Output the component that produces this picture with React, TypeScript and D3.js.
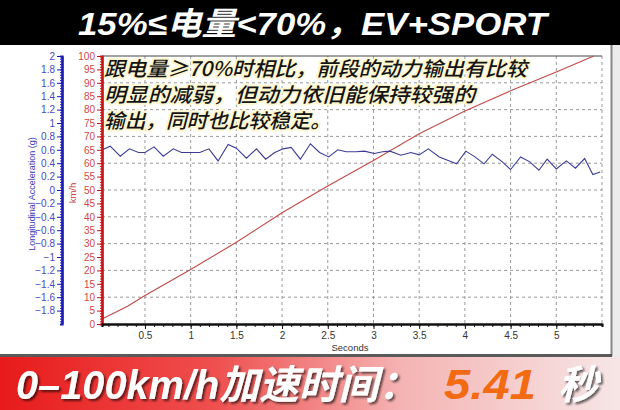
import React, { useEffect, useRef } from "react";
import * as d3 from "d3";

const titleText = "15%≤电量<70%，EV+SPORT";
const noteLines = [
  "跟电量≥70%时相比，前段的动力输出有比较",
  "明显的减弱，但动力依旧能保持较强的",
  "输出，同时也比较稳定。",
];
const bannerText = "0–100km/h加速时间：";
const bannerValue = "5.41";
const bannerUnit = "秒";

const timeTicks = [0.5, 1, 1.5, 2, 2.5, 3, 3.5, 4, 4.5, 5];
const speedTicks = [0, 5, 10, 15, 20, 25, 30, 35, 40, 45, 50, 55, 60, 65, 70, 75, 80, 85, 90, 95, 100];
const accelTicks = [-1.8, -1.6, -1.4, -1.2, -1, -0.8, -0.6, -0.4, -0.2, 0, 0.2, 0.4, 0.6, 0.8, 1, 1.2, 1.4, 1.6, 1.8, 2];
const gridSpeeds = [10, 20, 30, 40, 50, 60, 70, 80, 90];
const gridTimes = [0.5, 1, 1.5, 2, 2.5, 3, 3.5, 4, 4.5, 5, 5.5];

// speed (km/h)
const speedTimes = [0.03, 0.31, 0.5, 1.0, 1.5, 2.0, 2.5, 3.0, 3.5, 4.0, 4.5, 5.0, 5.41];
const speedValues = [1.9, 6.6, 10.6, 20.3, 30.5, 41.5, 51.5, 61, 71, 79.5, 87, 94, 100];

// longitudinal acceleration (g)
const accelTimes = [
  0.04, 0.12, 0.23, 0.33, 0.43, 0.5, 0.6, 0.7, 0.81, 0.9, 1.0, 1.1, 1.2, 1.3, 1.41, 1.5,
  1.61, 1.72, 1.82, 1.92, 2.01, 2.1, 2.2, 2.31, 2.41, 2.51, 2.61, 2.7, 2.81, 2.9, 3.01,
  3.1, 3.18, 3.3, 3.41, 3.5, 3.6, 3.72, 3.81, 3.91, 4.01, 4.11, 4.21, 4.3, 4.41, 4.5,
  4.61, 4.71, 4.81, 4.9, 5.0, 5.11, 5.21, 5.31, 5.4, 5.48,
];
const accelValues = [
  0.605, 0.654, 0.504, 0.614, 0.56, 0.56, 0.644, 0.504, 0.614, 0.56, 0.56, 0.56, 0.614,
  0.434, 0.68, 0.624, 0.475, 0.614, 0.46, 0.56, 0.614, 0.635, 0.46, 0.69, 0.56, 0.494,
  0.6, 0.57, 0.57, 0.58, 0.545, 0.57, 0.58, 0.52, 0.56, 0.524, 0.614, 0.494, 0.445, 0.39,
  0.58, 0.494, 0.39, 0.534, 0.42, 0.305, 0.494, 0.42, 0.295, 0.46, 0.314, 0.434, 0.325,
  0.47, 0.23, 0.27,
];

const App: React.FC = () => {
  const svgRef = useRef<SVGSVGElement>(null);

  useEffect(() => {
    const svg = d3.select(svgRef.current);
    svg.selectAll("*").remove();
    const width = 620;
    const height = 410;
    const plot = { left: 102, right: 602, top: 56, bottom: 324 };
    const latin = "'Liberation Sans', Arial, sans-serif";
    const heavy = "'Liberation Sans', 'Noto Sans CJK SC', sans-serif";

    const x = d3.scaleLinear().domain([0.03, 5.5]).range([plot.left, plot.right]);
    const ySpeed = d3.scaleLinear().domain([0, 100]).range([plot.bottom, plot.top]);
    const yAccel = d3.scaleLinear().domain([-2, 2]).range([plot.bottom, plot.top]);

    const defs = svg.append("defs");
    defs
      .append("filter")
      .attr("id", "shadow")
      .attr("x", "-10%")
      .attr("y", "-20%")
      .attr("width", "130%")
      .attr("height", "150%")
      .append("feDropShadow")
      .attr("dx", 2)
      .attr("dy", 2)
      .attr("stdDeviation", 1.2)
      .attr("flood-color", "#000")
      .attr("flood-opacity", 0.6);
    const grad = defs
      .append("linearGradient")
      .attr("id", "banner")
      .attr("x1", "0")
      .attr("x2", "1")
      .attr("y1", "0")
      .attr("y2", "0");
    [
      ["0%", "#e81a1a"],
      ["35%", "#ef5050"],
      ["65%", "#f5b4b4"],
      ["100%", "#f6e6e6"],
    ].forEach(([o, c]) => grad.append("stop").attr("offset", o).attr("stop-color", c));

    // page background and panel
    svg.append("rect").attr("width", width).attr("height", height).attr("fill", "#fff");
    svg.append("rect").attr("x", 612).attr("y", 45).attr("width", 8).attr("height", 312).attr("fill", "#ececec");
    svg
      .append("line")
      .attr("x1", 611.5)
      .attr("x2", 611.5)
      .attr("y1", 45)
      .attr("y2", 356)
      .attr("stroke", "#888")
      .attr("stroke-width", 2);

    // top title
    svg.append("rect").attr("width", width).attr("height", 45).attr("fill", "#000");
    svg
      .append("text")
      .attr("x", 78)
      .attr("y", 35)
      .attr("textLength", 469)
      .attr("lengthAdjust", "spacingAndGlyphs")
      .style("font-family", heavy)
      .style("font-size", "32px")
      .style("font-weight", "bold")
      .style("font-style", "italic")
      .attr("fill", "#fff")
      .text(titleText);

    // grid
    const grid = svg.append("g").attr("stroke", "#9a9a9a").attr("stroke-dasharray", "3,3");
    gridSpeeds.forEach((v) =>
      grid
        .append("line")
        .attr("x1", plot.left)
        .attr("x2", plot.right)
        .attr("y1", ySpeed(v))
        .attr("y2", ySpeed(v))
    );
    gridTimes.forEach((t) =>
      grid
        .append("line")
        .attr("x1", x(t))
        .attr("x2", x(t))
        .attr("y1", plot.top)
        .attr("y2", plot.bottom)
    );
    svg
      .append("line")
      .attr("x1", plot.left)
      .attr("x2", plot.right)
      .attr("y1", plot.top)
      .attr("y2", plot.top)
      .attr("stroke", "#444");

    // traces
    const speedLine = d3
      .line<number>()
      .x((d, i) => x(speedTimes[i]))
      .y((d) => ySpeed(d));
    svg
      .append("path")
      .datum(speedValues)
      .attr("fill", "none")
      .attr("stroke", "#c24a4a")
      .attr("stroke-width", 1.1)
      .attr("d", speedLine);

    const accelLine = d3
      .line<number>()
      .x((d, i) => x(accelTimes[i]))
      .y((d) => yAccel(d));
    svg
      .append("path")
      .datum(accelValues)
      .attr("fill", "none")
      .attr("stroke", "#3c3c96")
      .attr("stroke-width", 1.1)
      .attr("d", accelLine);

    // annotation
    const noteY = [76, 102, 128];
    const noteLen = [423, 371, 227];
    noteLines.forEach((s, i) =>
      svg
        .append("text")
        .attr("x", 104)
        .attr("y", noteY[i])
        .attr("textLength", noteLen[i])
        .attr("lengthAdjust", "spacingAndGlyphs")
        .style("font-family", "'Noto Sans CJK SC', sans-serif")
        .style("font-size", "20px")
        .style("font-weight", 500)
        .style("font-style", "italic")
        .style("paint-order", "stroke")
        .attr("stroke", "#fdf8d2")
        .attr("stroke-width", 4)
        .attr("stroke-linejoin", "round")
        .attr("fill", "#141414")
        .text(s)
    );

    // axes
    const styleAxis = (g: any, color: string, labelColor: string, width: number) => {
      g.select(".domain").attr("stroke", color).attr("stroke-width", width);
      g.selectAll(".tick line").attr("stroke", color);
      g.selectAll(".tick text").attr("fill", labelColor).style("font-family", latin).style("font-size", "10px");
    };

    const redMinor = svg
      .append("g")
      .attr("transform", `translate(${plot.left},0)`)
      .call(d3.axisLeft(ySpeed).tickValues(d3.range(0, 101, 1)).tickSize(2).tickFormat(() => ""));
    styleAxis(redMinor, "#c81414", "#d04040", 2.2);
    const redAxis = svg
      .append("g")
      .attr("transform", `translate(${plot.left},0)`)
      .call(d3.axisLeft(ySpeed).tickValues(speedTicks).tickSize(5).tickSizeOuter(0).tickPadding(2));
    styleAxis(redAxis, "#c81414", "#d04848", 2.2);

    const blueMinor = svg
      .append("g")
      .attr("transform", "translate(62,0)")
      .call(d3.axisLeft(yAccel).tickValues(d3.range(-2, 2.001, 0.04)).tickSize(2).tickFormat(() => ""));
    styleAxis(blueMinor, "#1c1cb4", "#4040c0", 2.2);
    const blueAxis = svg
      .append("g")
      .attr("transform", "translate(62,0)")
      .call(d3.axisLeft(yAccel).tickValues(accelTicks).tickSize(5).tickSizeOuter(0).tickPadding(2).tickFormat(d3.format("")));
    styleAxis(blueAxis, "#1c1cb4", "#4848c4", 2.2);

    const xMinor = svg
      .append("g")
      .attr("transform", `translate(0,${plot.bottom})`)
      .call(d3.axisBottom(x).tickValues(d3.range(0.1, 5.5, 0.1)).tickSize(3).tickFormat(() => ""));
    styleAxis(xMinor, "#111", "#333", 2.2);
    const xAxis = svg
      .append("g")
      .attr("transform", `translate(0,${plot.bottom})`)
      .call(d3.axisBottom(x).tickValues(timeTicks).tickSize(5).tickSizeOuter(0).tickPadding(3).tickFormat(d3.format("")));
    styleAxis(xAxis, "#111", "#333", 2.2);

    // axis titles
    svg
      .append("text")
      .attr("transform", "translate(35,194) rotate(-90)")
      .style("text-anchor", "middle")
      .style("font-family", latin)
      .style("font-size", "9px")
      .attr("fill", "#3a3ab8")
      .text("Longitudinal Acceleration (g)");
    svg
      .append("text")
      .attr("transform", "translate(76,193) rotate(-90)")
      .style("text-anchor", "middle")
      .style("font-family", latin)
      .style("font-size", "9.5px")
      .attr("fill", "#c83c3c")
      .text("km/h");
    svg
      .append("text")
      .attr("x", 350)
      .attr("y", 351)
      .style("text-anchor", "middle")
      .style("font-family", latin)
      .style("font-size", "9.5px")
      .attr("fill", "#333")
      .text("Seconds");

    // bottom banner
    svg.append("rect").attr("x", 0).attr("y", 354).attr("width", 612).attr("height", 4).attr("fill", "#5a5a5a");
    svg.append("rect").attr("x", 0).attr("y", 357).attr("width", width).attr("height", 53).attr("fill", "url(#banner)");
    svg
      .append("text")
      .attr("x", 16)
      .attr("y", 399)
      .attr("textLength", 402)
      .attr("lengthAdjust", "spacingAndGlyphs")
      .attr("filter", "url(#shadow)")
      .style("font-family", heavy)
      .style("font-size", "40px")
      .style("font-weight", "bold")
      .style("font-style", "italic")
      .attr("fill", "#fff")
      .text(bannerText);
    svg
      .append("text")
      .attr("x", 444)
      .attr("y", 399)
      .attr("textLength", 92)
      .attr("lengthAdjust", "spacingAndGlyphs")
      .style("font-family", heavy)
      .style("font-size", "42px")
      .style("font-weight", "bold")
      .style("font-style", "italic")
      .attr("fill", "#f26a12")
      .text(bannerValue);
    svg
      .append("text")
      .attr("x", 558)
      .attr("y", 399)
      .attr("filter", "url(#shadow)")
      .style("font-family", heavy)
      .style("font-size", "40px")
      .style("font-weight", "bold")
      .style("font-style", "italic")
      .attr("fill", "#fff")
      .text(bannerUnit);
  }, []);

  return (
    <div style={{ position: "absolute", left: 0, top: 0 }}>
      <svg ref={svgRef} width="620" height="410"></svg>
    </div>
  );
};

export default App;
